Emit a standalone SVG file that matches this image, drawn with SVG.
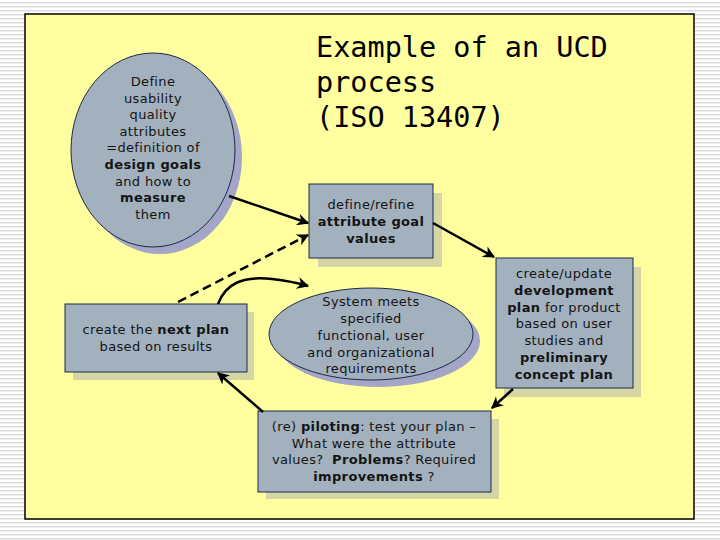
<svg xmlns="http://www.w3.org/2000/svg" width="720" height="540" viewBox="0 0 720 540">
<defs>
<pattern id="stripes" x="0" y="0" width="8" height="4" patternUnits="userSpaceOnUse">
<rect x="0" y="0" width="8" height="4" fill="#ffffff"/>
<rect x="0" y="2" width="8" height="1.5" fill="#dcdcdc"/>
</pattern>
<marker id="ah" viewBox="0 0 10 10" refX="9" refY="5" markerWidth="4.8" markerHeight="4.8" orient="auto" markerUnits="strokeWidth">
<path d="M0,0 L10,5 L0,10 L3,5 Z" fill="#000"/>
</marker>
<style>
.shadowE{fill:#a3a6c6;}
.shadowR{fill:#d5d5a6;}
.node{fill:#a3b1bf;stroke:#1b2a48;stroke-width:1;}
.t{font-family:"DejaVu Sans",Verdana,sans-serif;font-size:13px;letter-spacing:0.35px;fill:#141414;text-anchor:middle;}
.b{font-weight:bold;}
.title{font-family:"DejaVu Sans Mono","Liberation Mono",monospace;font-size:28.5px;fill:#000;}
.conn{fill:none;stroke:#000;stroke-width:2.5;marker-end:url(#ah);}
.dash{stroke-dasharray:9,5;}
</style>
</defs>
<rect x="0" y="0" width="720" height="540" fill="url(#stripes)"/>
<rect x="25" y="14" width="669" height="505" fill="#ffff9f" stroke="#000" stroke-width="1.5"/>

<g id="title">
<text class="title" x="316" y="57">Example of an UCD</text>
<text class="title" x="316" y="92">process</text>
<text class="title" x="316" y="127">(ISO 13407)</text>
</g>

<g id="define-attributes">
<ellipse class="shadowE" cx="160" cy="157" rx="82" ry="97"/>
<ellipse class="node" cx="153" cy="150" rx="82" ry="97"/>
<text class="t" x="153" y="86">Define</text>
<text class="t" x="153" y="103">usability</text>
<text class="t" x="153" y="119">quality</text>
<text class="t" x="153" y="136">attributes</text>
<text class="t" x="153" y="152">=definition of</text>
<text class="t b" x="153" y="169">design goals</text>
<text class="t" x="153" y="186">and how to</text>
<text class="t b" x="153" y="202">measure</text>
<text class="t" x="153" y="219">them</text>
</g>

<g id="define-refine">
<rect class="shadowR" x="318" y="193" width="124" height="74"/>
<rect class="node" x="309" y="184" width="124" height="74"/>
<text class="t" x="371" y="209">define/refine</text>
<text class="t b" x="371" y="226">attribute goal</text>
<text class="t b" x="371" y="243">values</text>
</g>

<g id="create-update">
<rect class="shadowR" x="504" y="267" width="137" height="130"/>
<rect class="node" x="496" y="258" width="137" height="130"/>
<text class="t" x="564" y="278">create/update</text>
<text class="t" x="564" y="295"><tspan class="b">development</tspan></text>
<text class="t" x="564" y="312"><tspan class="b">plan</tspan> for product</text>
<text class="t" x="564" y="328">based on user</text>
<text class="t" x="564" y="345">studies and</text>
<text class="t b" x="564" y="362">preliminary</text>
<text class="t b" x="564" y="379">concept plan</text>
</g>

<g id="system-meets">
<ellipse class="shadowE" cx="378" cy="341" rx="102" ry="46"/>
<ellipse class="node" cx="371" cy="334" rx="102" ry="46"/>
<text class="t" x="371" y="306">System meets</text>
<text class="t" x="371" y="323">specified</text>
<text class="t" x="371" y="340">functional, user</text>
<text class="t" x="371" y="357">and organizational</text>
<text class="t" x="371" y="373">requirements</text>
</g>

<g id="piloting">
<rect class="shadowR" x="266" y="419" width="233" height="80"/>
<rect class="node" x="258" y="411" width="233" height="81"/>
<text class="t" x="374" y="431">(re) <tspan class="b">piloting</tspan>: test your plan –</text>
<text class="t" x="374" y="448">What were the attribute</text>
<text class="t" x="374" y="464">values? <tspan class="b" dx="4">Problems</tspan>? Required</text>
<text class="t" x="374" y="481"><tspan class="b">improvements</tspan> ?</text>
</g>

<g id="next-plan">
<rect class="shadowR" x="73" y="312" width="181" height="68"/>
<rect class="node" x="65" y="304" width="182" height="68"/>
<text class="t" x="156" y="334">create the <tspan class="b">next plan</tspan></text>
<text class="t" x="156" y="351">based on results</text>
</g>

<g id="connectors">
<line class="conn" x1="229" y1="196" x2="308" y2="223"/>
<line class="conn dash" x1="178" y1="302" x2="308" y2="235"/>
<path class="conn" d="M218,304 C226,283 243,276 272,279 C290,281 298,283 308,286"/>
<line class="conn" x1="433" y1="223" x2="494" y2="257"/>
<line class="conn" x1="513" y1="389" x2="492" y2="408"/>
<line class="conn" x1="263" y1="412" x2="218" y2="373"/>
</g>
</svg>
